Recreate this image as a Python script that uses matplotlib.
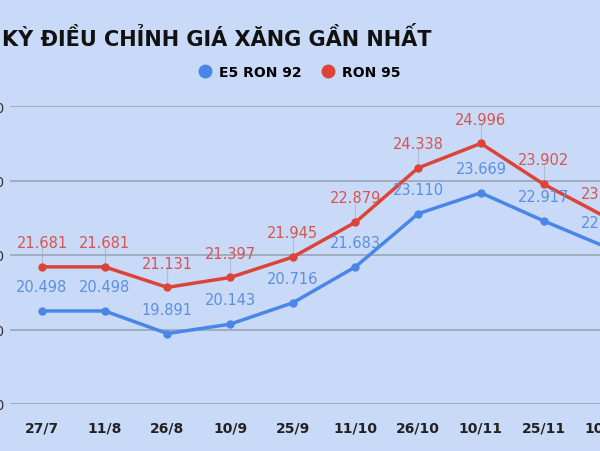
import matplotlib.pyplot as plt

ngay = ["27/7", "11/8", "26/8", "10/9", "25/9", "11/10", "26/10", "10/11", "25/11", "10/12"]
e5 = [20.498, 20.498, 19.891, 20.143, 20.716, 21.683, 23.110, 23.669, 22.917, 22.211]
ron95 = [21.681, 21.681, 21.131, 21.397, 21.945, 22.879, 24.338, 24.996, 23.902, 23.012]
y_ticks = [18, 20, 22, 24, 26]

nen = "#c9daf8"
xanh = "#4a86e8"
do = "#dc4437"

fig = plt.figure(figsize=(6, 4.52), dpi=100, facecolor=nen)
# truc rong hon hinh de giong anh bi cat
ax = fig.add_axes([10 / 600, 47 / 452, 740 / 600, 298 / 452], facecolor=nen)
x = list(range(len(ngay)))
ax.plot(x, e5, color=xanh, lw=2.5, marker="o", ms=5, label="E5 RON 92", zorder=3)
ax.plot(x, ron95, color=do, lw=2.5, marker="o", ms=5, label="RON 95", zorder=3)
for i in x:
    ax.text(i, e5[i] + 0.45, f"{e5[i]:.3f}", color="#5b8fe0", ha="center", va="bottom", fontsize=10.5)
    ax.text(i, ron95[i] + 0.45, f"{ron95[i]:.3f}", color="#d9534f", ha="center", va="bottom", fontsize=10.5)
    ax.plot([i, i], [ron95[i], ron95[i] + 0.5], color="#b0bcd0", lw=0.8, zorder=1)

ax.set_xlim(-0.51, -0.51 + 740 / 62.7)
ax.set_ylim(18, 26)
ax.set_yticks(y_ticks)
ax.set_yticklabels([f"{v}.000" for v in y_ticks], fontsize=10, color="#333333")
ax.set_xticks(x)
ax.set_xticklabels(ngay, fontsize=10, fontweight="bold", color="#222222")
ax.grid(axis="y", color="#9aa6b8", lw=1.2)
ax.tick_params(axis="x", length=0, pad=12)
ax.tick_params(axis="y", length=0, pad=4)
for s in ax.spines.values():
    s.set_visible(False)

fig.text(2 / 600, 1 - 38 / 452, "KỲ ĐIỀU CHỈNH GIÁ XĂNG GẦN NHẤT", fontsize=15,
         fontweight="bold", va="center", ha="left", color="#111111")
fig.legend(loc="center", bbox_to_anchor=(300 / 600, 1 - 73 / 452), ncol=2, frameon=False,
           handlelength=0.8, handletextpad=0.6, columnspacing=1.5,
           prop={"weight": "bold", "size": 10})
for h in fig.legends[0].legend_handles:
    h.set_linestyle("none")
    h.set_markersize(9)

fig.savefig("out.png", dpi=100, facecolor=nen)
